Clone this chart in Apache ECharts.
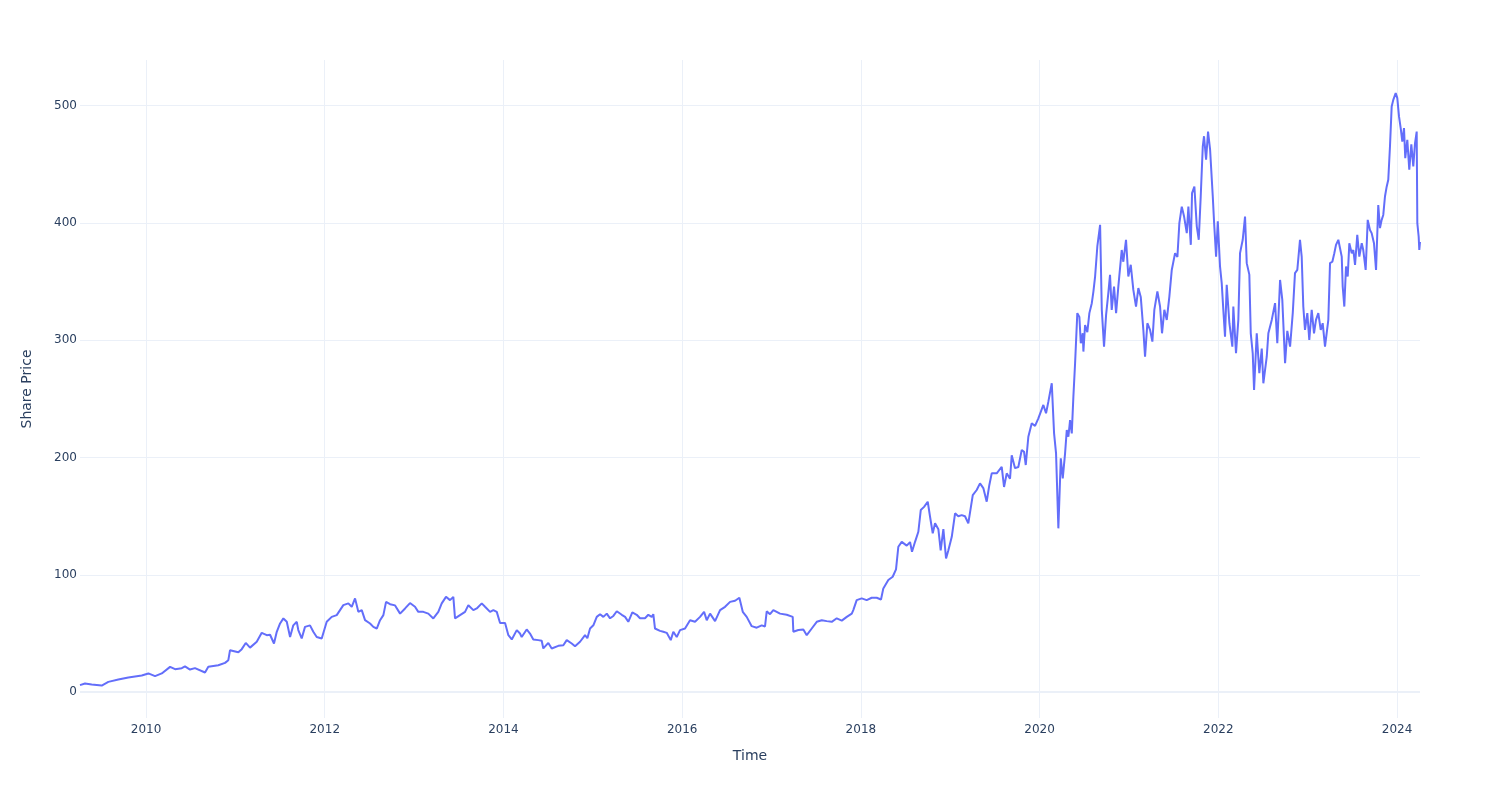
<!DOCTYPE html>
<html><head><meta charset="utf-8">
<script src="https://cdn.jsdelivr.net/npm/echarts@6/dist/echarts.min.js"></script>
<style>html,body{margin:0;padding:0;background:#fff}#c{width:1500px;height:800px}</style>
</head><body><div id="c"></div>
<script>
// Observation times (decimal years) and share prices, by period
const years2009_2011 = [2009.261,2009.317,2009.392,2009.504,2009.578,2009.690,2009.802,2009.952,2010.026,2010.101,2010.176,2010.269,2010.325,2010.400,2010.436,2010.492,2010.548,2010.660,2010.697,2010.809,2010.884,2010.921,2010.940,2011.033,2011.071,2011.116,2011.164,2011.239,2011.295,2011.351,2011.388,2011.432,2011.463,2011.500,2011.537,2011.575,2011.612,2011.648,2011.687,2011.704,2011.742,2011.779,2011.835,2011.872,2011.910,2011.966];
const prices2009_2011 = [6,7.4,6.5,5.7,8.8,10.8,12.5,14.2,16,13.7,16,21.6,19.6,20.5,22,19.3,20.5,16.8,21.6,23,25,27.3,35.8,34,36.7,42,38,43,50.6,48.6,49,41.5,51.5,58.6,62.9,60,47,57,60,53,45.8,55.7,57,51.5,47,45.8];

const years2012_2013 = [2011.984,2012.022,2012.078,2012.134,2012.171,2012.208,2012.264,2012.302,2012.339,2012.376,2012.414,2012.451,2012.507,2012.544,2012.582,2012.619,2012.656,2012.686,2012.731,2012.787,2012.843,2012.899,2012.954,2013.010,2013.047,2013.103,2013.159,2013.215,2013.271,2013.309,2013.357,2013.402,2013.439,2013.458,2013.514,2013.570,2013.607,2013.663,2013.701,2013.757,2013.794,2013.850,2013.887,2013.925,2013.962,2014.018,2014.055,2014.093,2014.149,2014.185];
const prices2012_2013 = [47,60,64.2,65.7,70,74.2,75.7,72.8,80,68.5,70,61.4,58.6,55.7,54.3,61.4,65.7,77,75,74,67,71.4,76,72.8,68.5,68.5,67,62.9,68.5,75.7,81.3,78.5,81.3,62.9,65.7,68.5,74.2,70,71.4,75.7,72.8,68.5,70,68.5,59,59,48.6,45,52.9,50];

const years2014_2015 = [2014.204,2014.260,2014.297,2014.334,2014.390,2014.428,2014.446,2014.502,2014.540,2014.614,2014.670,2014.708,2014.764,2014.801,2014.857,2014.913,2014.939,2014.969,2015.006,2015.044,2015.081,2015.118,2015.156,2015.193,2015.230,2015.268,2015.324,2015.361,2015.397,2015.442,2015.491,2015.528,2015.584,2015.621,2015.659,2015.677,2015.696,2015.752,2015.789,2015.827,2015.872,2015.901,2015.939,2015.976,2016.032];
const prices2014_2015 = [47,53.5,50,45,44.4,43.8,37.3,42,37.3,39.5,40,44.4,41.5,39.2,43,48.6,46,54.3,57,64.2,66.5,64.2,67,63,65,69,66,64.2,60,68,66,63,63,66,64.2,66.5,54.3,52.3,51.5,50.6,44.4,51.5,47,52.9,54.3];

const years2016_2017 = [2016.088,2016.144,2016.200,2016.245,2016.275,2016.312,2016.368,2016.424,2016.480,2016.536,2016.592,2016.640,2016.678,2016.722,2016.778,2016.834,2016.890,2016.927,2016.946,2016.983,2017.020,2017.095,2017.170,2017.237,2017.244,2017.300,2017.356,2017.394,2017.450,2017.506,2017.562,2017.618,2017.674,2017.730,2017.786,2017.842,2017.898,2017.915,2017.953,2018.009,2018.065,2018.121];
const prices2016_2017 = [61.4,60,64.2,68.5,61.4,67,60.6,70,72.8,77,78,80.5,68.5,64.2,56.3,55,57,56,69,66.5,70,67,66,64.2,51.5,53,53.5,48.6,54.3,60,61.4,60.6,60,63,61,64.2,67,70,78.5,80,78.5,80.5];

const years2018_2019 = [2018.177,2018.225,2018.251,2018.307,2018.356,2018.393,2018.419,2018.457,2018.513,2018.550,2018.572,2018.606,2018.643,2018.670,2018.707,2018.748,2018.774,2018.804,2018.830,2018.867,2018.893,2018.923,2018.953,2018.979,2019.017,2019.054,2019.090,2019.128,2019.165,2019.202,2019.221,2019.252,2019.296,2019.333,2019.370,2019.408,2019.437,2019.464,2019.520,2019.576,2019.602,2019.632,2019.669,2019.688,2019.725,2019.762,2019.800,2019.826,2019.845,2019.874,2019.912,2019.949,2019.986];
const prices2018_2019 = [80.5,79,88.5,95.6,98.4,104.7,124,128.2,125,128,119.7,128.2,136.8,155.3,158,162.4,149.6,135.4,144,139,121,139,114,121,132.5,152.5,150,151,150,144,144,168,172.4,178,174,162.4,176.5,186.6,186.6,192.2,175,186.6,182,202,191,192,206.5,205,193.7,217.8,229.3,227,233.5];

const years2020_2021 = [2020.042,2020.072,2020.098,2020.136,2020.162,2020.184,2020.210,2020.237,2020.259,2020.285,2020.304,2020.322,2020.341,2020.360,2020.378,2020.397,2020.422,2020.445,2020.461,2020.483,2020.490,2020.509,2020.534,2020.557,2020.584,2020.602,2020.621,2020.646,2020.677,2020.696,2020.721,2020.744,2020.769,2020.788,2020.807,2020.833,2020.856,2020.881,2020.919,2020.937,2020.967,2020.993,2021.020,2021.049,2021.079,2021.105,2021.132,2021.161,2021.180,2021.206,2021.236,2021.262,2021.284,2021.318,2021.348,2021.370,2021.396,2021.423,2021.452,2021.479,2021.516,2021.542,2021.564,2021.591,2021.617,2021.647,2021.665,2021.692,2021.706,2021.732,2021.759,2021.781,2021.803,2021.826,2021.840,2021.863,2021.885,2021.908,2021.938,2021.952,2021.975,2021.994];
const prices2020_2021 = [244.9,237.8,247.7,263.4,220.7,203.6,139.7,199.4,182.3,203.6,223.5,217.8,232,220.7,252,280.5,323.2,320,297.5,306,290.4,313.1,307,323.2,331.7,341.6,354.4,380,398.5,326,294.6,321.7,340.2,355.8,326,345.8,323.2,345.8,377,367,385.7,354.4,364.4,343,328.8,344.5,337,308.9,286,314.6,308.9,298.9,326,341.6,328.8,306,326,317.4,337.3,360,374.3,371,400,414,405.5,391.4,414,381.4,425.5,431,397.2,385.7,422.6,465.3,474,454,478,462.5,422.6,401.4,371.4,401.4];

const years2022 = [2022.019,2022.038,2022.056,2022.075,2022.094,2022.124,2022.157,2022.168,2022.198,2022.224,2022.243,2022.273,2022.299,2022.318,2022.347,2022.363,2022.385,2022.400,2022.430,2022.459,2022.486,2022.504,2022.542,2022.560,2022.598,2022.635,2022.660,2022.691,2022.716,2022.747,2022.772,2022.803,2022.833,2022.858,2022.884];
const prices2022 = [363,348.8,326,303,347.3,314.6,294.6,328.8,289,317.4,374.3,385.7,405.5,365.8,356,306,289,257.7,306,272,293,263.4,286,306,317.4,331.7,297.5,351.5,334.5,280.5,308,294.6,323.2,357.3,360];

const years2023_2024 = [2022.914,2022.933,2022.951,2022.970,2022.996,2023.018,2023.045,2023.071,2023.093,2023.119,2023.146,2023.168,2023.194,2023.213,2023.231,2023.250,2023.276,2023.298,2023.317,2023.343,2023.362,2023.381,2023.392,2023.410,2023.429,2023.448,2023.466,2023.493,2023.511,2023.530,2023.555,2023.578,2023.605,2023.622,2023.649,2023.672,2023.697,2023.716,2023.742,2023.765,2023.790,2023.809,2023.828,2023.846,2023.865,2023.884,2023.902,2023.921,2023.940,2023.958,2023.985,2024.003,2024.022,2024.041,2024.059,2024.078,2024.092,2024.115,2024.137,2024.160,2024.182,2024.201,2024.220,2024.227,2024.242,2024.249,2024.257];
const prices2023_2024 = [385.7,371.4,328.8,308.9,323.2,300.3,326,306,317.4,323.2,308.9,314.6,294.6,294.6,317.4,365.8,367,374.3,381.4,385.7,378.5,371.4,345.8,328.8,363,354.4,382.8,374.3,377,364.3,389.9,371.4,382.8,377,360,402.7,394,391.4,382.8,360,415.4,395.7,402.7,406.9,422.6,431,436.9,465.3,499.4,505,510.8,506.5,490.9,481,469.5,481,455.3,471,445.4,467,448.2,468,478,400,388.5,377.1,384];

const xTickYears = [2010,2012,2014,2016,2018,2020,2022,2024];
const yTicks = [0,100,200,300,400,500];
const xRange = [2009.261, 2024.257];
const yRange = [-22, 539];

const years = [].concat(years2009_2011, years2012_2013, years2014_2015, years2016_2017, years2018_2019, years2020_2021, years2022, years2023_2024);
const prices = [].concat(prices2009_2011, prices2012_2013, prices2014_2015, prices2016_2017, prices2018_2019, prices2020_2021, prices2022, prices2023_2024);
const seriesData = years.map((y,i)=>[y, prices[i]]);

const font = 'DejaVu Sans, Verdana, sans-serif';
const txt = '#2a3f5f';
const grid = '#EBF0F8';
const chart = echarts.init(document.getElementById('c'), null, {renderer:'canvas'});
chart.setOption({
  animation:false,
  backgroundColor:'#fff',
  grid:{left:80,right:80,top:60,bottom:82,containLabel:false},
  xAxis:{
    type:'value', min:xRange[0], max:xRange[1],
    name:'Time', nameLocation:'middle', nameGap:31,
    nameTextStyle:{color:txt,fontSize:14,fontFamily:font},
    axisLine:{show:false}, axisTick:{show:false, customValues:xTickYears},
    axisLabel:{customValues:xTickYears, color:txt, fontSize:12, fontFamily:font, margin:6,
      formatter:v=>String(Math.round(v))},
    splitLine:{show:true, lineStyle:{color:grid,width:1}}
  },
  yAxis:{
    type:'value', min:yRange[0], max:yRange[1],
    name:'Share Price', nameLocation:'middle', nameGap:46, nameRotate:90,
    nameTextStyle:{color:txt,fontSize:14,fontFamily:font},
    axisLine:{show:false}, axisTick:{show:false, customValues:yTicks},
    axisLabel:{customValues:yTicks, color:txt, fontSize:12, fontFamily:font, margin:3},
    splitLine:{show:true, lineStyle:{color:grid,width:1}}
  },
  series:[{
    type:'line', data:seriesData, showSymbol:false, symbol:'none',
    lineStyle:{color:'#636efa', width:2}, itemStyle:{color:'#636efa'},
    markLine:{silent:true, symbol:['none','none'], label:{show:false},
      lineStyle:{color:grid,width:2,type:'solid'}, data:[{yAxis:0}], z:1}
  }]
});
</script></body></html>
